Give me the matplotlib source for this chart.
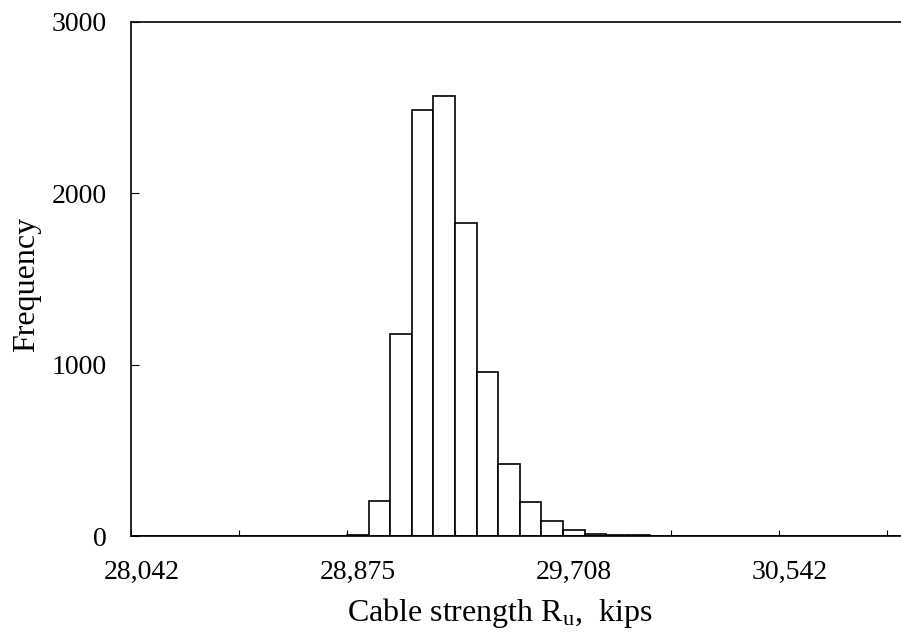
import numpy as np
import matplotlib
matplotlib.use('Agg')
import matplotlib.pyplot as plt

plt.rcParams['font.family'] = ['Liberation Serif', 'DejaVu Serif']
plt.rcParams['mathtext.fontset'] = 'custom'
plt.rcParams['mathtext.rm'] = 'Liberation Serif'
plt.rcParams['mathtext.it'] = 'Liberation Serif:italic'

# histogram of simulated cable strength (kips), 40 equal bins
first_edge = 28041.667
bin_width = 83.333
counts = [0, 0, 0, 0, 0, 0, 0, 0, 0, 0,
          5, 205, 1180, 2485, 2565, 1825, 955, 420, 200, 85,
          33, 12, 4, 5, 0, 0, 0, 0, 0, 0,
          0, 0, 0, 0, 0, 0, 0, 0, 0, 0]
label_bins = [0, 10, 20, 30]      # bins whose lower edge is printed
tick_every = 5                    # a tick mark every 5 bins
y_ticks = [0, 1000, 2000, 3000]

edges = first_edge + bin_width * np.arange(len(counts))

fig = plt.figure(figsize=(9.01, 6.33), dpi=100)
# plot area runs past the right edge of the picture (cropped like the source)
ax = fig.add_axes([130.7 / 901, 97 / 633, 864.8 / 901, 514.3 / 633])

ax.bar(edges, counts, width=bin_width, align='edge',
       facecolor='white', edgecolor='black', linewidth=1.2)

ax.set_xlim(edges[0], edges[-1] + bin_width)
ax.set_ylim(0, 3000)

# labels sit in the middle of the bin they name, tick marks on the bin edges
lab_pos = [edges[i] + bin_width / 2 for i in label_bins]
ax.set_xticks(lab_pos)
ax.set_xticklabels([f"{round(edges[i]):,}" for i in label_bins])
ax.set_xticks(edges[::tick_every], minor=True)
ax.tick_params(axis='x', which='major', length=0, pad=17, labelsize=20)
ax.tick_params(axis='x', which='minor', direction='in', length=4.5, width=0.8)

ax.set_yticks(y_ticks)
ax.tick_params(axis='y', direction='in', length=6, width=0.8, pad=17, labelsize=20)

for s in ax.spines.values():
    s.set_linewidth(1.2)

ax.set_xlabel(r'Cable strength R$_\mathrm{u}$,  kips', fontsize=23, ha='center', va='center')
ax.xaxis.set_label_coords((500 - 130.7) / 864.8, (536 - 613) / 514.3)
ax.set_ylabel('Frequency', fontsize=23, ha='center', va='center')
ax.yaxis.set_label_coords((26.7 - 130.7) / 864.8, (536 - 284) / 514.3)

fig.savefig('out.png', dpi=100)
